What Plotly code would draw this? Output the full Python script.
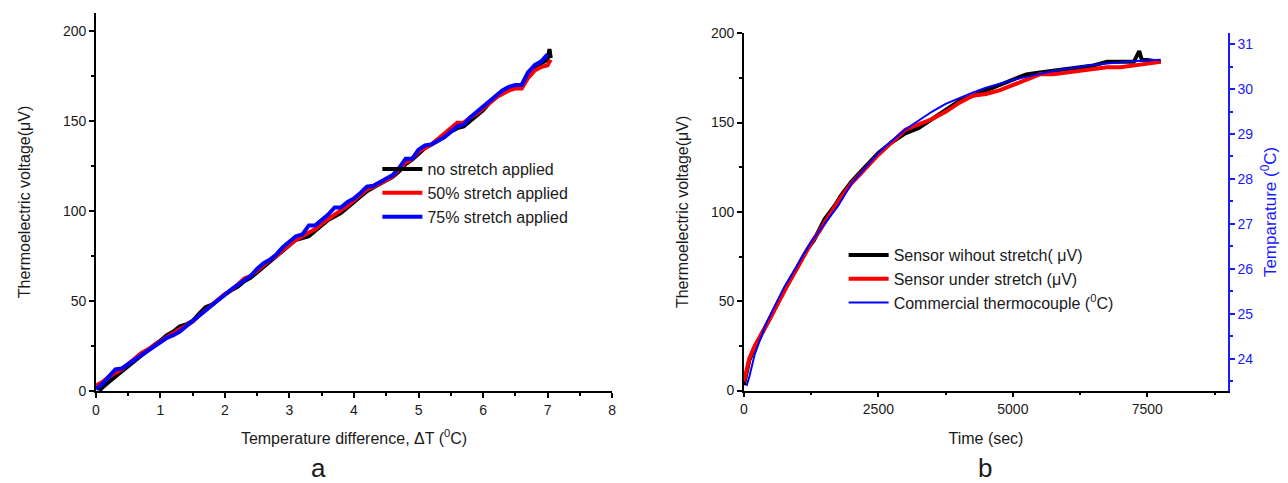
import plotly.graph_objects as go

# ---------------- Panel a data ----------------
dT_no = [0.05, 0.1, 0.2, 0.3, 0.4, 0.5, 0.6, 0.7, 0.8, 0.9, 1.0, 1.1, 1.2, 1.3, 1.4, 1.5, 1.6, 1.7, 1.8, 1.9,
         2.0, 2.1, 2.2, 2.3, 2.4, 2.5, 2.6, 2.7, 2.8, 2.9, 3.0, 3.1, 3.2, 3.3, 3.4, 3.5, 3.6, 3.7, 3.8, 3.9,
         4.0, 4.1, 4.2, 4.3, 4.4, 4.5, 4.6, 4.7, 4.8, 4.9, 5.0, 5.1, 5.2, 5.3, 5.4, 5.5, 5.6, 5.7, 5.8, 5.9,
         6.0, 6.1, 6.2, 6.3, 6.4, 6.5, 6.6, 6.7, 6.8, 6.9, 7.0, 7.03, 7.05]
v_no = [0, 2, 5, 8, 11, 14, 17, 20, 22.5, 25.5, 28, 31, 33, 36, 37, 39, 43, 46.5, 48, 51,
        53.5, 56, 58, 61, 63, 66, 69, 72, 75, 78, 81, 84, 85, 86, 89, 92, 95, 97, 99, 102,
        105, 108, 111, 113, 115, 117, 119, 122, 126, 128.5, 132, 135, 137, 139, 141, 144, 146, 147, 150, 153,
        156, 160, 163, 166, 167, 169, 170, 177, 180, 182, 184, 190, 185]

dT_50 = [0.0, 0.1, 0.2, 0.3, 0.4, 0.5, 0.6, 0.7, 0.8, 0.9, 1.0, 1.1, 1.2, 1.3, 1.4, 1.5, 1.6, 1.7, 1.8, 1.9,
         2.0, 2.1, 2.2, 2.3, 2.4, 2.5, 2.6, 2.7, 2.8, 2.9, 3.0, 3.1, 3.2, 3.3, 3.4, 3.5, 3.6, 3.7, 3.8, 3.9,
         4.0, 4.1, 4.2, 4.3, 4.4, 4.5, 4.6, 4.7, 4.8, 4.9, 5.0, 5.1, 5.2, 5.3, 5.4, 5.5, 5.6, 5.7, 5.8, 5.9,
         6.0, 6.1, 6.2, 6.3, 6.4, 6.5, 6.6, 6.7, 6.8, 6.9, 7.0, 7.05]
v_50 = [3, 5, 8, 10, 12, 15, 18, 21, 23, 25, 27.5, 30, 32, 34, 36, 38.5, 42, 45, 48.5, 51,
        54, 56, 59, 62.5, 64, 67, 69.5, 73, 75, 78.5, 81, 84, 86, 88, 90, 93, 95.5, 98, 100, 103,
        106, 109, 112, 113.5, 115, 117, 119.5, 123, 127, 129, 133, 135, 137, 140, 143, 146, 149, 149, 152, 154,
        157, 160, 163, 165, 167, 168, 168, 174, 178, 180, 181, 184]

dT_75 = [0.0, 0.1, 0.2, 0.3, 0.4, 0.5, 0.6, 0.7, 0.8, 0.9, 1.0, 1.1, 1.2, 1.3, 1.4, 1.5, 1.6, 1.7, 1.8, 1.9,
         2.0, 2.1, 2.2, 2.3, 2.4, 2.5, 2.6, 2.7, 2.8, 2.9, 3.0, 3.1, 3.2, 3.3, 3.4, 3.5, 3.6, 3.7, 3.8, 3.9,
         4.0, 4.1, 4.2, 4.3, 4.4, 4.5, 4.6, 4.7, 4.8, 4.9, 5.0, 5.1, 5.2, 5.3, 5.4, 5.5, 5.6, 5.7, 5.8, 5.9,
         6.0, 6.1, 6.2, 6.3, 6.4, 6.5, 6.6, 6.7, 6.8, 6.9, 7.0]
v_75 = [1, 4, 8, 12, 12.5, 15, 17.5, 20, 22, 25, 27.5, 29.5, 31, 33, 36, 39, 42, 45, 48, 51,
        54, 56.5, 59, 61.5, 64, 68, 71, 73, 76, 80, 83, 86, 87, 92, 92, 95, 98, 102, 102, 105,
        107, 110, 113.5, 114, 116, 118, 120, 124, 129, 129, 134, 136.5, 137, 139, 141, 144, 147, 148, 152, 155,
        158, 161, 164, 167, 169, 170, 170, 177, 181, 183, 187]

# ---------------- Panel b data ----------------
t_no = [0, 50, 100, 200, 300, 400, 500, 600, 700, 800, 900, 1000, 1100, 1200, 1300, 1400, 1500, 1600, 1700,
        1800, 1900, 2000, 2250, 2500, 2750, 3000, 3250, 3500, 3750, 4000, 4250, 4500, 4750, 5000, 5250,
        5500, 5750, 6000, 6250, 6500, 6750, 7000, 7250, 7350, 7400, 7500, 7750]
vb_no = [3, 10, 17, 24, 30, 36, 42, 47, 53, 59, 64, 70, 75, 80, 84, 90, 96, 100, 104,
         109, 113, 117, 125, 133, 139, 144, 147, 152, 157, 162, 165, 168, 171, 174, 177,
         178, 179, 180, 181, 182, 184, 184, 184, 190, 185, 185, 184]

t_st = [0, 50, 100, 200, 300, 400, 500, 600, 700, 800, 900, 1000, 1100, 1200, 1300, 1400, 1500, 1600, 1700,
        1800, 1900, 2000, 2250, 2500, 2750, 3000, 3250, 3500, 3750, 4000, 4250, 4500, 4750, 5000, 5250,
        5500, 5750, 6000, 6250, 6500, 6750, 7000, 7250, 7500, 7750]
vb_st = [5, 12, 18, 25, 30, 35, 41, 47, 53, 58, 64, 69, 75, 80, 85, 89, 94, 99, 104,
         108, 112, 116, 124, 132, 139, 146, 149, 152, 156, 161, 165, 166, 168, 171, 174,
         177, 177, 178, 179, 180, 181, 181, 182, 183, 184]

t_tc = [50, 100, 200, 300, 400, 500, 750, 1000, 1250, 1500, 1750, 2000, 2250, 2500, 2750, 3000, 3250,
        3500, 3750, 4000, 4250, 4500, 4750, 5000, 5250, 5500, 5750, 6000, 6250, 6500, 6750, 7000,
        7250, 7500, 7750]
temp_tc = [23.4, 23.6, 24.1, 24.45, 24.75, 25.0, 25.6, 26.1, 26.6, 27.0, 27.4, 27.9, 28.25, 28.58, 28.85,
           29.1, 29.3, 29.5, 29.67, 29.8, 29.92, 30.03, 30.12, 30.2, 30.27, 30.34, 30.4, 30.45, 30.5,
           30.54, 30.57, 30.6, 30.62, 30.64, 30.65]

FONT = "Liberation Sans, Arial, sans-serif"
TXT = "#1a1a1a"
BLUE = "#1a1aff"

fig = go.Figure()

# Panel a traces
fig.add_trace(go.Scatter(x=dT_no, y=v_no, mode="lines", name="no stretch applied",
                         line=dict(color="black", width=4), xaxis="x", yaxis="y", legend="legend"))
fig.add_trace(go.Scatter(x=dT_50, y=v_50, mode="lines", name="50% stretch applied",
                         line=dict(color="#ff0000", width=4), xaxis="x", yaxis="y", legend="legend"))
fig.add_trace(go.Scatter(x=dT_75, y=v_75, mode="lines", name="75% stretch applied",
                         line=dict(color="#0000ff", width=4), xaxis="x", yaxis="y", legend="legend"))

# Panel b traces
fig.add_trace(go.Scatter(x=t_no, y=vb_no, mode="lines", name="Sensor wihout stretch( \u03bcV)",
                         line=dict(color="black", width=4), xaxis="x2", yaxis="y2", legend="legend2"))
fig.add_trace(go.Scatter(x=t_st, y=vb_st, mode="lines", name="Sensor under stretch (\u03bcV)",
                         line=dict(color="#ff0000", width=4), xaxis="x2", yaxis="y2", legend="legend2"))
fig.add_trace(go.Scatter(x=t_tc, y=temp_tc, mode="lines", name="Commercial thermocouple (<sup>0</sup>C)",
                         line=dict(color="#0000ff", width=2), xaxis="x2", yaxis="y3", legend="legend2"))

tickfont = dict(family=FONT, size=14, color=TXT)
titlefont = dict(family=FONT, size=16, color=TXT)

common = dict(showgrid=False, zeroline=False, showline=True, linecolor="black", linewidth=1.5,
              ticks="outside", ticklen=5, tickwidth=1.5, tickcolor="black", tickfont=tickfont,
              automargin=False)

fig.update_layout(
    width=1288, height=483,
    margin=dict(l=0, r=0, t=0, b=0),
    paper_bgcolor="white", plot_bgcolor="white",
    showlegend=True,
    xaxis=dict(domain=[0.0745, 0.4752], range=[0, 8], dtick=1, anchor="y",
               minor=dict(ticks="outside", ticklen=3, dtick=0.5, tickcolor="black", tickwidth=1.5),
               title=dict(text="Temperature difference, \u0394T (<sup>0</sup>C)", font=titlefont, standoff=16),
               **common),
    yaxis=dict(domain=[0.1905, 0.9731], range=[0, 210], tickvals=[0, 50, 100, 150, 200], anchor="x",
               minor=dict(ticks="outside", ticklen=3, tickvals=[25, 75, 125, 175], tickcolor="black", tickwidth=1.5),
               title=dict(text="Thermoelectric voltage(\u03bcV)", font=titlefont, standoff=28),
               **common),
    xaxis2=dict(domain=[0.5776, 0.9534], range=[0, 9000], tickvals=[0, 2500, 5000, 7500], anchor="y2",
                minor=dict(ticks="outside", ticklen=3, tickvals=[1250, 3750, 6250, 8750], tickcolor="black", tickwidth=1.5),
                title=dict(text="Time (sec)", font=titlefont, standoff=17),
                **common),
    xaxis3=dict(domain=[0.5776, 0.9534], range=[0, 9000], tickvals=[0, 2500, 5000, 7500], anchor="y2",
                overlaying="x2", side="top", showticklabels=False, showgrid=False, zeroline=False,
                showline=True, linecolor="black", linewidth=1.5, ticks="inside", ticklen=5, tickwidth=1.5,
                tickcolor="black", automargin=False,
                minor=dict(ticks="inside", ticklen=3, tickvals=[1250, 3750, 6250, 8750], tickcolor="black", tickwidth=1.5)),
    yaxis2=dict(domain=[0.1915, 0.9311], range=[0, 200], tickvals=[0, 50, 100, 150, 200], anchor="x2",
                minor=dict(ticks="outside", ticklen=3, tickvals=[25, 75, 125, 175], tickcolor="black", tickwidth=1.5),
                title=dict(text="Thermoelectric voltage(\u03bcV)", font=titlefont, standoff=18),
                **common),
    yaxis3=dict(domain=[0.1915, 0.9311], range=[23.296, 31.24], tickvals=[24, 25, 26, 27, 28, 29, 30, 31],
                anchor="x2", overlaying="y2", side="right", automargin=False,
                showgrid=False, zeroline=False, showline=True, linecolor=BLUE, linewidth=1.5,
                ticks="outside", ticklen=5, tickwidth=1.5, tickcolor=BLUE,
                minor=dict(ticks="outside", ticklen=3, tickvals=[23.5, 24.5, 25.5, 26.5, 27.5, 28.5, 29.5, 30.5],
                           tickcolor=BLUE, tickwidth=1.5),
                tickfont=dict(family=FONT, size=14, color=BLUE),
                title=dict(text="Temparature (<sup>0</sup>C)", font=dict(family=FONT, size=17, color=BLUE), standoff=12)),
    legend=dict(x=0.293, y=0.685, xanchor="left", yanchor="top", bgcolor="rgba(0,0,0,0)",
                font=dict(family=FONT, size=16, color=TXT), tracegroupgap=0, itemwidth=40),
    legend2=dict(x=0.655, y=0.507, xanchor="left", yanchor="top", bgcolor="rgba(0,0,0,0)",
                 font=dict(family=FONT, size=16, color=TXT), tracegroupgap=0, itemwidth=40),
    annotations=[
        dict(text="a", x=318 / 1288, y=1 - 468 / 483, xref="paper", yref="paper", showarrow=False,
             font=dict(family=FONT, size=26, color=TXT), xanchor="center", yanchor="middle"),
        dict(text="b", x=985 / 1288, y=1 - 468 / 483, xref="paper", yref="paper", showarrow=False,
             font=dict(family=FONT, size=26, color=TXT), xanchor="center", yanchor="middle"),
    ],
)

fig.write_html("out.html",
               config={"displayModeBar": False},
               post_script="document.body.style.margin='0';document.body.style.padding='0';"
                           "document.body.style.overflow='hidden';")
